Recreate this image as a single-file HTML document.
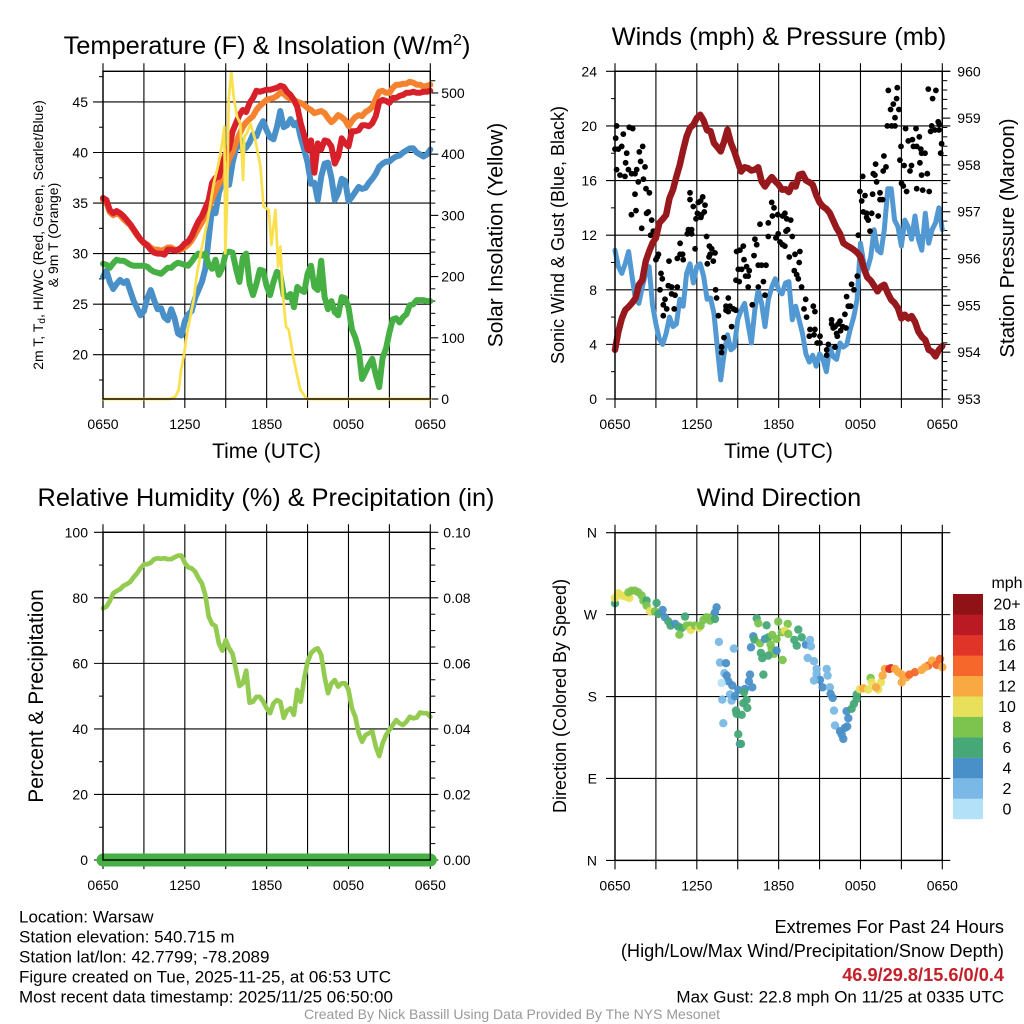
<!DOCTYPE html>
<html lang="en">
<head>
<meta charset="utf-8">
<title>NYS Mesonet Meteogram - Warsaw</title>
<style>
html,body{margin:0;padding:0;background:#fff;width:1024px;height:1024px;overflow:hidden}
svg{display:block}
text{font-family:"Liberation Sans",Arial,sans-serif;fill:#000}
</style>
</head>
<body>
<svg id="chart" xmlns="http://www.w3.org/2000/svg" width="1024" height="1024" viewBox="0 0 1024 1024">
  <rect x="0" y="0" width="1024" height="1024" fill="#fff"/>
  <g id="p1"></g>
  <g id="p2"></g>
  <g id="p3"></g>
  <g id="p4"></g>
  <g id="cb"></g>

  <text x="267" y="54" font-size="25.4" text-anchor="middle">Temperature (F) &amp; Insolation (W/m<tspan dy="-9" font-size="16">2</tspan><tspan dy="9">)</tspan></text>
  <text x="779" y="45" font-size="25.3" text-anchor="middle">Winds (mph) &amp; Pressure (mb)</text>
  <text x="266" y="506" font-size="25.3" text-anchor="middle">Relative Humidity (%) &amp; Precipitation (in)</text>
  <text x="779" y="506" font-size="25.3" text-anchor="middle">Wind Direction</text>

  <text x="266.5" y="458" font-size="21" text-anchor="middle">Time (UTC)</text>
  <text x="778.5" y="458" font-size="21" text-anchor="middle">Time (UTC)</text>

  <text transform="translate(43,235) rotate(-90)" font-size="14" text-anchor="middle">2m T, T<tspan font-size="10" dy="2">d</tspan><tspan dy="-2">, HI/WC (Red, Green, Scarlet/Blue)</tspan></text>
  <text transform="translate(58,235) rotate(-90)" font-size="14" text-anchor="middle">&amp; 9m T (Orange)</text>
  <text transform="translate(502.5,235) rotate(-90)" font-size="21" text-anchor="middle">Solar Insolation (Yellow)</text>
  <text transform="translate(564,235) rotate(-90)" font-size="18" text-anchor="middle">Sonic Wind &amp; Gust (Blue, Black)</text>
  <text transform="translate(1014,238) rotate(-90)" font-size="20.4" text-anchor="middle">Station Pressure (Maroon)</text>
  <text transform="translate(43,696) rotate(-90)" font-size="21" text-anchor="middle">Percent &amp; Precipitation</text>
  <text transform="translate(566,696) rotate(-90)" font-size="18" text-anchor="middle">Direction (Colored By Speed)</text>

  <g>
    <text x="19" y="922.5" font-size="17">Location: Warsaw</text>
    <text x="19" y="942.5" font-size="17">Station elevation: 540.715 m</text>
    <text x="19" y="962.5" font-size="17">Station lat/lon: 42.7799; -78.2089</text>
    <text x="19" y="982.5" font-size="17">Figure created on Tue, 2025-11-25, at 06:53 UTC</text>
    <text x="19" y="1002.5" font-size="17">Most recent data timestamp: 2025/11/25 06:50:00</text>
  </g>
  <g>
    <text x="1004" y="933" font-size="18.2" text-anchor="end">Extremes For Past 24 Hours</text>
    <text x="1004" y="957" font-size="18.2" text-anchor="end">(High/Low/Max Wind/Precipitation/Snow Depth)</text>
    <text x="1004" y="981" font-size="18.2" font-weight="bold" text-anchor="end" style="fill:#c4202a">46.9/29.8/15.6/0/0.4</text>
    <text x="1004" y="1002.5" font-size="17" text-anchor="end">Max Gust: 22.8 mph On 11/25 at 0335 UTC</text>
  </g>
  <text x="512" y="1019" font-size="14" text-anchor="middle" style="fill:#999">Created By Nick Bassill Using Data Provided By The NYS Mesonet</text>
</svg>
<script>
// ---- shared axis data ----
var timeTickLabels = ["0650","","1250","","1850","","0050","","0650"];
var stepHours = 0.25;

// ---- panel 1: temperature (F), sampled every 15 minutes ----
var tempTicks = [20,25,30,35,40,45];
var solarTicks = [0,100,200,300,400,500];
var temp2m = [35.5,35.3,34.3,34.0,34.2,34.0,33.7,33.3,32.9,32.4,31.9,31.4,31.1,30.8,30.4,30.1,30.0,30.0,29.9,30.4,30.4,30.3,30.4,30.6,31.0,31.2,31.7,32.5,33.2,33.7,34.5,35.3,37.0,37.5,37.6,38.9,39.9,40.4,42.1,42.9,43.7,44.2,44.0,44.9,45.4,46.1,46.0,46.1,46.2,46.2,46.3,46.4,46.6,46.5,46.0,45.7,45.2,44.5,42.9,41.7,40.3,41.2,38.0,40.9,40.3,41.2,41.1,40.6,38.9,39.6,41.4,40.9,40.6,42.1,42.1,42.2,42.7,42.7,42.6,42.9,43.6,45.0,45.2,45.1,44.9,45.4,45.4,45.6,45.7,45.9,45.9,46.0,45.9,45.9,46.0,46.0,46.1];
var temp9m = [35.3,35.0,34.1,33.8,34.0,33.8,33.4,33.1,32.8,32.3,31.8,31.4,31.0,30.9,30.6,30.4,30.4,30.3,30.4,30.6,30.6,30.4,30.3,30.4,30.6,30.9,31.3,31.9,32.5,33.1,33.8,34.5,35.4,36.2,36.9,37.5,38.2,39.4,40.0,41.0,41.8,42.5,43.0,43.3,43.6,44.2,44.6,44.9,45.2,45.3,45.4,45.6,45.9,45.8,45.5,45.3,45.2,45.0,44.9,44.7,44.4,44.2,43.9,44.0,44.1,43.9,43.4,43.0,43.3,43.7,43.5,43.2,42.6,43.1,43.5,43.7,43.6,44.0,44.2,44.5,45.3,46.0,46.1,45.9,45.9,46.4,46.7,46.7,46.8,46.8,47.0,46.9,46.7,46.7,46.5,46.6,46.7];
var windChill = [27.7,28.3,27.2,26.5,27.0,27.4,27.1,27.3,26.3,25.3,24.6,23.9,24.3,25.6,26.4,25.4,24.5,24.6,23.7,23.4,24.5,23.6,22.1,21.9,23.3,24.0,24.3,25.6,26.4,27.2,28.5,31.5,34.5,34.0,36.0,37.0,37.2,36.8,39.0,40.4,41.5,40.2,40.5,41.0,41.8,41.6,42.5,43.1,42.2,41.5,41.3,42.5,44.1,42.5,42.7,43.3,42.7,43.0,41.5,40.3,39.0,36.9,37.0,35.3,37.6,38.9,39.0,37.5,35.3,36.0,37.4,37.2,35.2,35.6,36.1,36.6,36.4,36.5,37.0,37.4,37.9,38.6,38.9,39.1,39.1,39.4,39.6,39.7,40.0,40.2,40.4,40.4,40.0,39.8,39.6,39.8,40.3];
var dewPoint = [29.0,28.9,28.6,29.05,29.4,29.3,29.3,29.1,28.9,28.8,28.8,28.8,28.8,28.7,28.4,28.2,28.1,28.0,28.3,28.6,28.6,28.9,29.1,29.0,28.9,28.8,29.2,29.7,30.0,29.8,30.0,28.9,28.5,29.4,27.9,28.6,30.0,30.2,30.1,28.5,27.2,29.6,30.0,27.0,25.9,27.0,28.4,28.3,26.8,25.9,27.2,28.2,27.9,25.9,25.7,26.0,24.7,26.7,26.4,26.2,28.0,28.8,26.7,26.4,29.3,25.7,24.5,25.3,24.2,23.9,25.7,25.6,24.7,22.5,21.7,20.5,17.6,18.3,19.0,19.6,18.0,16.8,19.7,20.6,22.2,23.5,23.6,23.2,23.7,24.0,24.9,25.0,25.4,25.4,25.4,25.3,25.3];
var solarHours = [0,4.94,5.31,5.55,5.72,5.92,6.16,6.41,6.65,6.89,7.26,7.63,8.12,8.48,8.73,8.90,8.97,9.10,9.22,9.41,9.58,9.83,10.07,10.27,10.37,10.56,10.81,11.17,11.54,11.78,12.15,12.35,12.64,12.84,13.01,13.18,13.42,13.62,13.99,14.47,14.96,24];
var solarValues = [0,0,4,15,47,69,107,135,162,205,249,287,352,385,418,445,238,325,489,535,494,461,450,358,429,434,450,423,380,314,309,252,309,216,249,173,118,113,64,15,0,0];

// ---- panel 2: winds (mph) and pressure (mb) ----
var windTicks = [0,4,8,12,16,20,24];
var pressureTicks = [953,954,955,956,957,958,959,960];
var sonicWind = [10.9,9.7,9.2,9.9,10.8,9.0,7.3,7.0,8.2,9.2,9.7,6.9,5.5,4.4,4.0,4.8,6.0,5.3,5.5,7.3,6.8,9.2,9.9,8.5,9.7,9.9,9.0,7.3,7.4,6.3,3.8,1.4,3.3,4.7,3.6,3.8,5.8,6.5,7.0,5.5,4.1,6.5,8.0,7.0,5.3,7.3,8.2,8.8,8.0,7.7,8.5,8.6,5.8,6.8,5.8,4.8,3.3,2.7,3.2,2.4,3.3,2.9,2.0,3.8,3.1,2.9,4.1,3.8,4.0,5.1,6.0,7.3,11.4,9.9,9.5,10.4,12.4,10.9,10.7,12.4,15.4,15.4,13.1,12.6,11.2,13.1,12.6,11.7,13.4,11.7,10.9,13.6,11.4,12.4,12.9,14.0,12.4];
var pressure = [954.05,954.44,954.72,954.90,954.97,955.05,955.15,955.44,955.54,955.94,956.15,956.33,956.44,956.76,956.84,956.93,957.29,957.47,957.75,958.00,958.32,958.61,958.79,958.86,959.00,959.07,958.95,958.74,958.72,958.47,958.38,958.29,958.50,958.75,958.47,958.29,958.07,957.86,957.95,957.93,957.88,957.90,957.95,957.65,957.54,957.65,957.74,957.65,957.58,957.47,957.48,957.42,957.58,957.54,957.79,957.81,957.67,957.63,957.58,957.36,957.20,957.11,957.06,956.97,956.81,956.65,956.53,956.33,956.28,956.24,956.19,956.13,956.04,955.79,955.60,955.53,955.42,955.30,955.40,955.44,955.26,955.12,955.05,954.94,954.72,954.80,954.72,954.77,954.65,954.44,954.33,954.26,954.05,954.01,953.91,954.05,954.13];
var gustHours = [0.12,0.05,0,0.24,0.49,0.61,1.05,1.30,0.86,0.12,0.37,0.73,0.78,0.98,1.22,1.47,1.59,1.88,2.2,1.78,2.03,1.71,2.08,2.27,1.47,2.52,1.2,1.54,2.32,2.44,2.69,1.96,2.81,2.61,3.1,3.18,3.0,3.96,3.37,3.47,3.3,3.91,4.15,4.57,3.67,4.15,4.4,3.54,3.79,4.34,3.54,4.77,4.77,4.96,4.57,5.0,5.87,5.38,5.62,5.3,5.62,5.5,5.5,5.74,6.11,6.28,6.43,6.6,6.55,6.35,6.04,6.3,5.94,6.72,6.92,7.09,7.33,6.97,6.89,7.21,6.77,7.38,7.45,7.58,8.31,8.14,8.43,8.14,8.68,8.31,8.85,8.55,7.99,7.82,7.82,8.92,9.16,9.41,9.46,9.65,9.04,9.29,9.84,9.58,9.77,8.87,9.11,9.77,10.26,10.39,10.19,10.63,11.24,11.24,10.51,10.75,11.07,10.88,10.51,11.0,10.07,11.49,11.66,11.54,11.93,12.29,12.46,12.59,12.88,11.97,11.8,12.66,12.54,13.0,12.1,12.29,12.46,13.56,13.2,12.78,13.51,13.15,13.32,13.44,13.68,13.98,13.86,14.54,14.05,14.66,14.3,14.66,14.25,14.59,15.03,14.83,15.03,15.64,15.52,15.52,15.88,15.88,16.13,16.5,16.37,16.0,16.25,16.3,16.7,16.54,16.94,16.13,16.98,17.11,17.28,16.86,17.35,17.52,17.77,17.96,18.33,18.09,18.21,18.45,18.82,18.45,18.57,17.84,18.7,18.16,19.3,19.43,18.89,19.43,19.62,18.94,19.06,19.18,19.67,19.87,19.72,19.11,20.04,20.7,20.65,20.41,20.21,20.82,20.53,20.53,20.28,19.97,21.31,22.07,22.31,21.81,21.51,20.97,21.88,22.12,22.42,22.73,22.48,20.89,21.2,21.74,22.36,21.63,22.48,22.9,21.01,21.14,21.38,22.12,22.56,23.04,22.97,23.53,23.29,23.22,23.7,23.78,23.14,23.46,23.75,23.95,23.88];
var gustValues = [20.0,19.1,18.3,18.3,18.5,19.4,19.9,19.8,18.0,16.8,16.4,16.3,17.3,16.8,16.5,16.5,16.8,17.4,17.0,18.1,18.5,15.9,16.1,15.4,15.0,15.1,13.5,13.8,13.6,13.7,13.1,12.5,12.3,12.0,10.4,10.6,10.2,10.1,9.2,8.8,8.0,8.3,8.2,8.2,7.3,7.7,7.6,6.9,6.6,6.6,6.1,11.4,10.6,10.6,10.3,10.2,11.0,12.4,12.4,12.1,12.1,15.1,14.6,14.1,14.4,14.5,14.8,14.2,13.7,13.5,13.6,13.3,13.2,11.9,11.2,11.0,10.7,10.6,10.4,10.1,9.9,8.0,7.4,6.1,7.4,6.8,6.8,6.5,6.6,6.4,6.5,5.3,4.5,3.8,3.4,10.8,10.9,11.2,10.2,9.7,9.5,9.5,9.4,9.0,9.0,8.7,8.6,8.2,11.7,11.3,10.5,12.8,12.9,11.9,9.8,9.8,9.8,8.6,8.2,7.6,6.9,14.4,14.0,13.4,13.5,13.4,13.6,13.2,13.1,12.1,11.8,12.4,12.3,11.9,11.5,11.3,11.2,10.8,10.6,10.4,10.0,9.4,9.1,8.8,8.2,7.3,6.6,6.8,6.0,6.4,5.1,5.1,4.6,4.7,4.6,4.1,4.1,4.0,3.6,3.2,5.8,5.5,5.3,5.7,5.5,5.2,4.8,4.6,5.3,5.0,5.2,3.8,7.5,6.8,6.8,6.2,8.4,8.0,9.0,15.2,14.9,14.5,13.7,13.6,13.6,13.3,13.1,12.0,12.3,16.3,13.4,15.1,15.0,14.6,14.6,16.5,16.4,15.9,16.7,17.0,17.8,17.2,22.6,22.8,22.0,21.6,21.2,21.2,20.6,20.0,20.0,20.0,19.8,19.8,19.2,19.0,18.9,18.5,18.5,18.5,18.3,18.0,18.0,17.5,17.1,17.1,17.3,16.7,16.4,16.5,15.8,15.6,15.2,15.4,15.3,15.2,22.7,22.6,22.0,20.0,20.3,20.1,19.6,19.7,19.7,18.7,18.0];

// ---- panel 3: relative humidity (%) and precipitation (in) ----
var percentTicks = [0,20,40,60,80,100];
var precipTicks = ["0.00","0.02","0.04","0.06","0.08","0.10"];
var humidity = [76.8,77.3,79.0,81.4,82.1,82.6,83.7,84.2,84.9,86.3,87.5,89.0,90.2,90.3,90.7,91.8,92.1,91.9,92.1,91.8,91.8,92.4,92.9,92.9,90.7,89.3,89.0,88.0,86.0,84.4,80.9,74.3,72.0,71.4,66.1,63.9,67.1,64.6,62.9,58.0,53.1,53.9,57.8,48.0,48.3,49.8,49.8,48.3,46.3,44.8,47.8,48.8,48.3,43.4,45.6,46.3,44.3,51.9,48.3,55.4,60.5,63.1,64.1,64.6,62.6,55.9,50.9,53.9,54.9,52.9,53.9,53.9,51.9,46.3,43.7,38.7,36.1,38.1,38.7,39.2,34.6,31.7,35.6,38.1,39.7,41.2,42.7,41.7,41.2,42.2,43.7,43.2,43.5,45.0,44.8,44.8,43.7];
var precipitation = [0,0,0,0,0,0,0,0,0,0,0,0,0,0,0,0,0,0,0,0,0,0,0,0,0];
var precipStepHours = 1;

// ---- panel 4: wind direction (degrees) coloured by speed (mph) ----
var compassTicks = ["N","E","S","W","N"];
var dirHours = [0,0,0.24,0.49,0.81,1.05,0.98,1.22,1.47,1.71,1.96,2.08,2.32,2.32,2.57,2.93,3.05,3.18,3.49,3.67,3.91,4.08,4.4,4.64,4.89,4.72,5.13,5.25,5.5,5.55,5.87,6.16,6.28,6.48,6.72,6.97,7.21,7.33,7.45,7.33,7.62,8.72,7.7,8.14,8.02,8.19,8.31,8.6,7.82,7.87,8.43,8.55,8.8,9.04,9.53,9.46,10.07,9.82,9.9,10.88,9.65,9.41,9.7,8.87,8.92,9.29,7.94,9.04,9.16,9.24,10.39,10.51,11.12,11.97,12.66,10.14,10.22,9.97,10.63,11.0,11.24,11.53,11.85,11.41,11.49,11.66,11.85,10.7,10.8,11.24,12.29,12.22,12.46,12.71,13.15,13.44,13.69,13.32,14.0,14.3,14.37,14.13,14.59,14.78,14.78,15.52,15.59,15.03,14.59,15.22,15.76,15.81,15.96,16.06,16.98,17.11,16.13,17.03,16.86,16.5,16.62,16.74,17.35,17.52,17.72,17.72,17.96,18.21,18.57,19.31,18.74,18.82,19.5,19.14,19.62,19.79,20.23,20.11,20.53,20.77,21.02,21.02,21.38,21.58,21.99,22.48,22.97,22.73,23.26,23.58,23.83,24.0];
var dirDegrees = [282.4,288.3,293.4,290.9,289.8,288.3,294.5,296.3,296.3,294.5,290.9,285.4,285.4,279.9,273.7,273.7,282.8,270.7,275.1,267.1,262.7,257.9,259.8,256.8,255.4,248.0,267.8,257.9,257.9,253.2,257.9,255.4,257.9,264.1,267.1,263.4,268.9,265.2,278.0,272.6,240.0,232.7,217.3,216.6,205.6,203.0,196.8,192.1,195.0,176.7,182.2,175.6,180.4,187.3,188.4,184.7,190.2,196.8,204.1,204.1,176.3,172.7,167.5,164.6,161.0,159.9,150.7,138.6,128.0,128.0,266.0,260.5,258.3,262.3,259.8,246.2,242.6,234.1,238.5,243.3,245.1,247.7,243.3,237.1,232.3,226.8,230.5,227.9,222.1,225.0,220.2,250.6,252.4,248.8,242.2,253.5,245.1,236.0,237.1,242.2,235.2,222.4,218.8,210.4,204.9,210.4,203.0,198.3,197.6,190.2,190.2,182.9,178.5,164.6,163.9,156.2,148.2,147.1,145.6,141.9,138.3,133.5,166.5,171.9,177.4,182.2,188.0,189.1,187.7,187.7,200.5,195.7,195.7,190.2,203.0,210.4,211.1,210.4,210.4,206.7,204.1,195.7,201.2,204.1,206.7,209.3,214.0,212.2,219.5,214.8,221.3,212.2];
var dirSpeed = [7,11,11,11,11,11,9,9,9,9,9,9,7,9,11,9,7,7,5,5,7,7,5,7,7,9,7,9,9,11,9,11,9,9,9,9,9,7,5,5,3,3,3,5,3,5,5,5,1,3,3,3,5,5,5,7,5,5,5,7,7,7,7,7,7,7,3,7,5,7,7,9,7,9,9,5,7,5,9,5,7,9,9,9,9,9,5,7,7,7,9,9,11,9,7,7,7,7,5,3,3,3,3,3,3,3,3,5,3,5,3,5,5,3,5,5,3,5,5,5,5,5,7,7,7,7,11,13,11,11,9,11,11,13,13,13,17,17,13,13,13,13,13,15,15,13,15,13,13,15,15,13];
var speedLabels = ["0","2","4","6","8","10","12","14","16","18","20+"];
var speedColors = ["#b3e2f8","#7ab8e6","#4a90c8","#46a877","#7cc44e","#e8e05a","#f9a941","#f5672a","#e03428","#ba1a23","#8f1216"];

// ---- rendering ----
var NS = "http://www.w3.org/2000/svg";
var PANEL_W = 327.3, PANEL_H = 327.7;
function el(tag, attrs, parent) {
  var e = document.createElementNS(NS, tag);
  for (var k in attrs) e.setAttribute(k, attrs[k]);
  parent.appendChild(e);
  return e;
}
function xScale(left, h) { return left + h / 24 * PANEL_W; }
function yScale(top, bottomVal, topVal, v) { return top + PANEL_H - (v - bottomVal) / (topVal - bottomVal) * PANEL_H; }

function tick(parent, x1, y1, x2, y2, w, name) {
  var t = el("line", {x1: x1, y1: y1, x2: x2, y2: y2, stroke: "#000", "stroke-width": w}, parent);
  
  
  return t;
}
function label(parent, x, y, s, anchor, name) {
  var t = el("text", {x: x, y: y, "font-size": 14, "text-anchor": anchor}, parent);
  t.textContent = s;
  
  
  return t;
}
function drawXAxis(parent, left, top, bottom) {
  timeTickLabels.forEach(function (s, i) {
    var x = left + i / 8 * PANEL_W;
    tick(parent, x, top - 8, x, bottom + 9, 1.1, 'x-gridline');
    if (s) label(parent, x, bottom + 30, s, "middle", 'x-tick-label');
  });
}
function drawFrame(parent, left, top) {
  var f = el("rect", {x: left, y: top, width: PANEL_W, height: PANEL_H, fill: "none", stroke: "#000", "stroke-width": 1.4}, parent);
  
  
}
function seriesPath(parent, hours, values, xf, yf, color, width, name) {
  var pts = values.map(function (v, i) { return xf(hours ? hours[i] : i * stepHours).toFixed(1) + "," + yf(v).toFixed(1); });
  var p = el("polyline", {points: pts.join(" "), fill: "none", stroke: color, "stroke-width": width, "stroke-linejoin": "round", "stroke-linecap": "round"}, parent);
  
  
  return p;
}

// panel 1
(function () {
  var g = document.getElementById("p1"), L = 103, T = 71.3, B = T + PANEL_H;
  var lo = 15.62, hi = 48.03, sLo = 0, sHi = 535.4;
  var xf = function (h) { return xScale(L, h); };
  var yf = function (v) { return yScale(T, lo, hi, v); };
  var yr = function (v) { return yScale(T, sLo, sHi, v); };
  drawXAxis(g, L, T, B);
  tempTicks.forEach(function (v) {
    tick(g, L - 10, yf(v), L + PANEL_W, yf(v), 1.1, 'temperature-gridline');
    label(g, L - 15, yf(v) + 5, String(v), "end", 'temperature-tick-label');
    tick(g, L - 4, yf(v + 2.5), L, yf(v + 2.5), 1, 'temperature-minor-tick');
  });
  tick(g, L - 4, yf(17.5), L, yf(17.5), 1, 'temperature-minor-tick');
  solarTicks.forEach(function (v) {
    tick(g, L + PANEL_W, yr(v), L + PANEL_W + 8, yr(v), 1.1, 'solar-tick');
    label(g, L + PANEL_W + 11, yr(v) + 5, String(v), "start", 'solar-tick-label');
    for (var m = 20; m < 100; m += 20) if (v + m <= sHi) tick(g, L + PANEL_W, yr(v + m), L + PANEL_W + 5, yr(v + m), 1, 'solar-minor-tick');
  });
  seriesPath(g, null, windChill, xf, yf, "#4a90c8", 6, 'wind-chill-line');
  seriesPath(g, null, dewPoint, xf, yf, "#46b045", 6, 'dew-point-line');
  seriesPath(g, null, temp9m, xf, yf, "#f5822f", 6, 'nine-meter-temperature-line');
  seriesPath(g, null, temp2m, xf, yf, "#d7202a", 6, 'two-meter-temperature-line');
  seriesPath(g, solarHours, solarValues, xf, yr, "#fbe04e", 2.7, 'solar-insolation-line');
  drawFrame(g, L, T);
})();

// panel 2
(function () {
  var g = document.getElementById("p2"), L = 615, T = 71.3, B = T + PANEL_H;
  var xf = function (h) { return xScale(L, h); };
  var yf = function (v) { return yScale(T, 0, 24, v); };
  var yr = function (v) { return yScale(T, 953, 960, v); };
  drawXAxis(g, L, T, B);
  windTicks.forEach(function (v) {
    tick(g, L - 9, yf(v), L + PANEL_W + 8, yf(v), 1.1, 'wind-gridline');
    label(g, L - 18, yf(v) + 5, String(v), "end", 'wind-tick-label');
    if (v < 24) tick(g, L - 4, yf(v + 2), L, yf(v + 2), 1, 'wind-minor-tick');
  });
  pressureTicks.forEach(function (v) {
    tick(g, L + PANEL_W, yr(v), L + PANEL_W + 8, yr(v), 1.1, 'pressure-tick');
    label(g, L + PANEL_W + 15, yr(v) + 5, String(v), "start", 'pressure-tick-label');
    if (v < 960) for (var m = 0.2; m < 0.9; m += 0.2) tick(g, L + PANEL_W, yr(v + m), L + PANEL_W + 5, yr(v + m), 1, 'pressure-minor-tick');
  });
  seriesPath(g, null, sonicWind, xf, yf, "#5299d3", 5, 'sonic-wind-line');
  gustValues.forEach(function (v, i) {
    var c = el("circle", {cx: xf(gustHours[i]).toFixed(1), cy: yf(v).toFixed(1), r: 2.9, fill: "#000"}, g);
    
    
  });
  seriesPath(g, null, pressure, xf, yr, "#98191d", 6.5, 'pressure-line');
  drawFrame(g, L, T);
})();

// panel 3
(function () {
  var g = document.getElementById("p3"), L = 103, T = 532.3, B = T + PANEL_H;
  var xf = function (h) { return xScale(L, h); };
  var yf = function (v) { return yScale(T, 0, 100, v); };
  drawXAxis(g, L, T, B);
  percentTicks.forEach(function (v, i) {
    tick(g, L - 9, yf(v), L + PANEL_W + 8, yf(v), 1.1, 'humidity-gridline');
    label(g, L - 15, yf(v) + 5, String(v), "end", 'humidity-tick-label');
    label(g, L + PANEL_W + 13, yf(v) + 5, precipTicks[i], "start", 'precipitation-tick-label');
    if (v < 100) {
      tick(g, L - 4, yf(v + 10), L, yf(v + 10), 1, 'humidity-minor-tick');
      [5, 10, 15].forEach(function (m) {
        tick(g, L + PANEL_W, yf(v + m), L + PANEL_W + 5, yf(v + m), 1, 'precipitation-minor-tick');
      });
    }
  });
  seriesPath(g, null, humidity, xf, yf, "#93cb50", 4.7, 'relative-humidity-line');
  var prHours = precipitation.map(function (_, i) { return i * precipStepHours; });
  seriesPath(g, prHours, precipitation.map(function (v) { return v * 1000; }), xf, yf, "#46b045", 13, 'precipitation-line');
  drawFrame(g, L, T);
})();

// panel 4
(function () {
  var g = document.getElementById("p4"), L = 615, T = 532.7, B = T + PANEL_H;
  var xf = function (h) { return xScale(L, h); };
  var yf = function (v) { return yScale(T, 0, 360, v); };
  drawXAxis(g, L, T, B);
  compassTicks.forEach(function (s, i) {
    var v = i * 90;
    tick(g, L - 9, yf(v), L + PANEL_W + 8, yf(v), 1.1, 'direction-gridline');
    label(g, L - 18, yf(v) + 5, s, "end", 'direction-tick-label');
  });
  dirDegrees.forEach(function (d, i) {
    var bin = Math.min(speedColors.length - 1, Math.floor(dirSpeed[i] / 2));
    var c = el("circle", {cx: xf(dirHours[i]).toFixed(1), cy: yf(d).toFixed(1), r: 4.2, fill: speedColors[bin], "fill-opacity": 0.95}, g);
    
    
  });
  drawFrame(g, L, T);
})();

// colorbar
(function () {
  var g = document.getElementById("cb"), X = 953, TOP = 594, H = 225, N = speedColors.length, S = H / N;
  speedColors.forEach(function (c, i) {
    var r = el("rect", {x: X, y: (TOP + H - (i + 1) * S).toFixed(2), width: 30, height: (S + 0.2).toFixed(2), fill: c}, g);
    
    
    var t = el("text", {x: 1007, y: (TOP + H - i * S - S / 2 + 5.5).toFixed(1), "font-size": 16, "text-anchor": "middle"}, g);
    t.textContent = speedLabels[i];
    
    
  });
  var u = el("text", {x: 1007, y: 588, "font-size": 16, "text-anchor": "middle"}, g);
  u.textContent = "mph";
  
  
})();
</script>
</body>
</html>
